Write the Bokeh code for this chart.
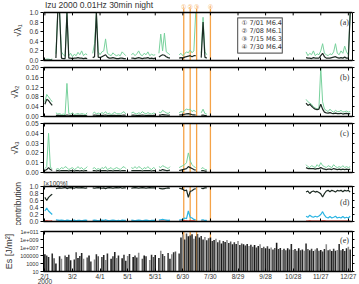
import numpy as np
from bokeh.plotting import figure
from bokeh.layouts import column
from bokeh.models import Range1d, FixedTicker, LinearAxis, LogAxis, Span, BoxAnnotation
from bokeh.embed import file_html
from bokeh.resources import INLINE
from bokeh.core.properties import value

N = None
# ---------------- data (2-day grid from 2000-02-01) ----------------
days = list(range(0, 334, 2))
x_tick_days = [0, 30, 60, 90, 120, 150, 180, 210, 240, 270, 300, 330]
x_tick_labels = ["2/1\n2000", "3/2", "4/1", "5/1", "5/31", "6/30", "7/30", "8/29", "9/28", "10/28", "11/27", "12/27"]
quake_days = [151, 158, 165, 180]
quake_marks = ["①", "②", "③", "④"]
quake_text = ["① 7/01 M6.4", "② 7/08 M6.1", "③ 7/15 M6.3", "④ 7/30 M6.4"]
title_text = "Izu 2000 0.01Hz 30min night"

a_green = [0.02,0.03,0.03,0.02,0.03,N,0.14,1.0,1.0,0.18,
           0.12,0.09,1.0,0.10,0.15,0.08,0.13,0.10,0.17,0.12,
           0.20,0.10,0.14,0.12,N,N,0.15,0.35,1.0,0.18,
           0.12,0.18,0.20,0.45,0.15,0.12,0.10,0.16,0.12,0.10,
           0.12,0.10,0.18,0.14,0.10,N,N,0.12,0.15,0.10,
           0.14,0.20,0.12,0.10,0.15,0.12,0.18,0.10,0.13,0.11,
           0.12,N,0.15,0.55,0.20,0.57,0.18,0.15,0.12,N,
           N,N,N,0.12,0.15,0.10,0.14,0.18,0.16,0.22,
           0.16,0.20,1.0,N,N,0.15,0.90,0.18,0.12,N] + [N]*50 + [
           N,N,0.18,0.10,0.15,0.12,0.20,0.10,0.14,0.12,
           0.20,0.35,0.15,0.12,0.10,0.14,0.12,0.18,0.35,0.15,
           0.12,0.20,0.15,0.30,0.18,0.12,1.0]
a_black = [0.01,0.01,0.01,0.01,0.01,N,0.05,1.0,1.0,0.05,
           0.04,0.04,1.0,0.05,0.05,0.04,0.05,0.05,0.06,0.05,
           0.05,0.04,0.05,0.04,N,N,0.06,0.08,1.0,0.07,
           0.06,0.08,0.10,0.12,0.07,0.05,0.05,0.06,0.05,0.04,
           0.04,0.05,0.05,0.04,0.04,N,N,0.05,0.05,0.04,
           0.05,0.06,0.05,0.04,0.05,0.05,0.06,0.04,0.05,0.04,
           0.05,N,0.07,0.10,0.12,0.11,0.08,0.06,0.05,N,
           N,N,N,0.05,0.06,0.05,0.07,0.08,0.09,0.10,
           0.08,0.10,0.10,N,N,0.06,0.80,0.07,0.05,N] + [N]*50 + [
           N,N,0.06,0.05,0.05,0.04,0.06,0.05,0.05,0.05,
           0.10,0.15,0.08,0.05,0.05,0.05,0.06,0.07,0.08,0.06,
           0.05,0.06,0.05,0.07,0.05,0.05,1.0]

b_green = [0.06,0.09,0.08,0.07,0.06,N,0.015,0.01,0.012,0.008,
           0.01,0.008,0.135,0.012,0.01,0.015,0.008,0.01,0.012,0.009,
           0.012,0.01,0.008,0.015,N,N,0.012,0.018,0.01,0.014,
           0.01,0.016,0.012,0.02,0.01,0.014,0.008,0.012,0.018,0.01,
           0.012,0.01,0.015,0.02,0.01,N,N,0.014,0.018,0.012,
           0.01,0.015,0.012,0.02,0.014,0.01,0.016,0.012,0.01,0.014,
           0.012,N,0.018,0.015,0.025,0.02,0.015,0.012,0.018,N,
           N,N,N,0.015,0.02,0.018,0.025,0.03,0.028,0.03,
           0.02,0.025,0.02,N,N,0.015,0.03,0.012,0.01,N] + [N]*50 + [
           N,N,0.07,0.06,0.055,0.05,0.04,0.035,0.03,0.035,
           0.2,0.06,0.03,0.025,0.02,0.03,0.022,0.018,0.025,0.02,
           0.02,0.025,0.018,0.02,0.022,0.018,0.02]
b_black = [0.05,0.07,0.065,0.055,0.045,N,0.005,0.005,0.005,0.004,
           0.004,0.004,0.006,0.005,0.004,0.005,0.004,0.004,0.005,0.004,
           0.005,0.004,0.004,0.005,N,N,0.005,0.006,0.005,0.005,
           0.004,0.005,0.005,0.006,0.004,0.005,0.004,0.005,0.005,0.004,
           0.005,0.004,0.005,0.006,0.005,N,N,0.005,0.006,0.005,
           0.004,0.005,0.005,0.006,0.005,0.004,0.005,0.005,0.004,0.005,
           0.005,N,0.006,0.006,0.008,0.007,0.006,0.005,0.006,N,
           N,N,N,0.006,0.007,0.007,0.009,0.011,0.012,0.01,
           0.008,0.007,0.006,N,N,0.005,0.006,0.004,0.004,N] + [N]*50 + [
           N,N,0.055,0.045,0.05,0.042,0.035,0.03,0.028,0.03,
           0.05,0.03,0.018,0.015,0.014,0.016,0.013,0.012,0.014,0.012,
           0.012,0.013,0.01,0.012,0.013,0.011,0.012]

c_green = [0.004,0.006,0.04,0.005,0.004,N,0.003,0.004,0.003,0.005,
           0.004,0.006,0.005,0.003,0.004,0.005,0.003,0.004,0.006,0.004,
           0.005,0.003,0.004,0.006,N,N,0.004,0.005,0.003,0.004,
           0.003,0.005,0.004,0.006,0.003,0.004,0.005,0.003,0.004,0.005,
           0.004,0.003,0.005,0.006,0.004,N,N,0.005,0.004,0.006,
           0.004,0.006,0.005,0.003,0.005,0.004,0.006,0.004,0.003,0.005,
           0.004,N,0.006,0.005,0.007,0.006,0.005,0.004,0.006,N,
           N,N,N,0.005,0.006,0.007,0.008,0.01,0.02,0.012,
           0.008,0.006,0.005,N,N,0.004,0.005,0.003,0.003,N] + [N]*50 + [
           N,N,0.008,0.006,0.005,0.007,0.006,0.005,0.008,0.006,
           0.01,0.007,0.006,0.005,0.007,0.006,0.005,0.008,0.006,0.005,
           0.006,0.005,0.007,0.005,0.006,0.005,0.006]
c_black = [0.002,0.003,0.005,0.003,0.002,N,0.0015,0.002,0.0015,0.002,
           0.002,0.002,0.002,0.0015,0.002,0.002,0.0015,0.002,0.002,0.0015,
           0.002,0.0015,0.002,0.002,N,N,0.002,0.002,0.0015,0.002,
           0.0015,0.002,0.002,0.002,0.0015,0.002,0.002,0.0015,0.002,0.002,
           0.002,0.0015,0.002,0.002,0.002,N,N,0.002,0.002,0.002,
           0.002,0.002,0.002,0.0015,0.002,0.002,0.002,0.002,0.0015,0.002,
           0.002,N,0.0025,0.002,0.003,0.0025,0.002,0.002,0.0025,N,
           N,N,N,0.002,0.0025,0.003,0.0035,0.004,0.006,0.005,
           0.004,0.003,0.0025,N,N,0.002,0.002,0.0015,0.0015,N] + [N]*50 + [
           N,N,0.005,0.004,0.004,0.004,0.004,0.0035,0.004,0.004,
           0.005,0.004,0.0035,0.003,0.0035,0.0035,0.003,0.004,0.0035,0.003,
           0.0035,0.003,0.0035,0.003,0.0035,0.003,0.0035]

d_cyan = [0.30,0.38,0.30,0.25,0.20,N,0.05,0.04,0.03,0.04,
          0.03,0.02,0.04,0.03,0.02,0.03,0.04,0.02,0.03,0.03,
          0.02,0.03,0.04,0.03,N,N,0.03,0.04,0.03,0.02,
          0.03,0.04,0.03,0.05,0.03,0.02,0.03,0.04,0.03,0.02,
          0.03,0.02,0.04,0.03,0.03,N,N,0.04,0.03,0.02,
          0.03,0.04,0.03,0.02,0.03,0.04,0.03,0.02,0.03,0.03,
          0.03,N,0.04,0.05,0.06,0.05,0.04,0.03,0.04,N,
          N,N,N,0.04,0.05,0.06,0.10,0.08,0.30,0.12,
          0.10,0.06,0.05,N,N,0.04,0.05,0.03,0.03,N] + [N]*50 + [
          N,N,0.15,0.12,0.18,0.14,0.12,0.15,0.13,0.16,
          0.20,0.28,0.18,0.12,0.10,0.14,0.10,0.12,0.15,0.10,
          0.12,0.10,0.14,0.10,0.12,0.10,0.15]
d_red = [0.01,0.02,0.01,0.01,0.02,N,0.01,0.01,0.01,0.01,
         0.01,0.01,0.02,0.01,0.01,0.01,0.01,0.01,0.01,0.01,
         0.01,0.01,0.01,0.01,N,N,0.01,0.01,0.01,0.01,
         0.01,0.01,0.01,0.01,0.01,0.01,0.01,0.01,0.01,0.01,
         0.01,0.01,0.01,0.01,0.01,N,N,0.01,0.01,0.01,
         0.01,0.01,0.01,0.01,0.01,0.01,0.01,0.01,0.01,0.01,
         0.01,N,0.01,0.01,0.01,0.01,0.01,0.01,0.01,N,
         N,N,N,0.01,0.01,0.02,0.02,0.02,0.01,0.02,
         0.02,0.02,0.01,N,N,0.01,0.01,0.01,0.01,N] + [N]*50 + [
         N,N,0.01,0.01,0.02,0.01,0.01,0.01,0.01,0.01,
         0.01,0.02,0.02,0.01,0.01,0.01,0.01,0.01,0.01,0.01,
         0.01,0.01,0.01,0.01,0.01,0.01,0.01]
d_black = [0.69,0.60,0.69,0.74,0.78,N,0.94,0.95,0.96,0.95,
           0.96,0.97,0.94,0.96,0.97,0.96,0.95,0.97,0.96,0.96,
           0.97,0.96,0.95,0.96,N,N,0.96,0.95,0.96,0.97,
           0.96,0.95,0.96,0.94,0.96,0.97,0.96,0.95,0.96,0.97,
           0.96,0.97,0.95,0.96,0.96,N,N,0.95,0.96,0.97,
           0.96,0.95,0.96,0.97,0.96,0.95,0.96,0.97,0.96,0.96,
           0.96,N,0.95,0.94,0.93,0.94,0.95,0.96,0.95,N,
           N,N,N,0.95,0.94,0.92,0.88,0.90,0.69,0.86,
           0.88,0.92,0.94,N,N,0.95,0.94,0.96,0.96,N] + [N]*50 + [
           N,N,0.84,0.87,0.80,0.85,0.87,0.84,0.86,0.83,
           0.79,0.70,0.80,0.87,0.89,0.85,0.89,0.87,0.84,0.89,
           0.87,0.89,0.85,0.89,0.87,0.89,0.84]

# log10 of Es [J/m^2]
e_log = [5.3,5.0,4.6,1,5.5,4.3,3.0,1,4.8,4.2,
         1,5.0,4.6,5.2,3.8,1,4.0,5.8,4.4,4.9,
         5.6,4.2,1,4.5,5.0,3.5,1,4.0,5.3,4.8,
         1,4.6,5.1,3.9,5.5,1,4.2,4.8,5.9,4.4,
         5.0,1,4.3,5.2,3.7,4.9,5.4,1,4.6,5.0,
         4.5,5.7,1,4.2,5.0,4.8,1,3.9,5.2,4.6,
         5.1,1,4.4,6.2,5.4,4.9,1,5.6,4.2,5.3,
         5.8,6.0,1,5.5,9.5,10.2,9.0,10.5,9.8,10.0,
         10.3,9.2,9.8,10.4,9.5,9.9,9.0,9.6,8.8,9.3,
         9.5,8.6,8.9,9.2,8.3,8.8,8.0,8.6,8.4,8.9,
         8.1,8.5,7.8,8.3,7.9,8.6,7.6,8.0,7.8,7.5,
         7.9,7.4,7.7,7.2,7.6,7.0,7.4,7.8,6.9,7.2,
         6.8,7.3,6.7,7.0,6.5,6.9,8.2,6.6,6.9,6.4,
         6.7,6.3,6.8,6.5,7.9,6.4,6.6,6.2,6.8,6.3,
         6.5,6.2,8.0,6.6,6.3,6.7,6.1,6.5,6.8,6.2,
         6.4,6.0,6.6,7.8,6.3,6.5,6.1,6.7,6.2,6.4,
         7.9,6.3,6.6,6.1,6.8,7.2,6.5]
e_ticks = [10, 1e3, 1e5, 1e7, 1e9, 1e11]
e_tick_labels = ["10", "1000", "100000", "1e+007", "1e+009", "1e+011"]

# ---------------- styling ----------------
FONT = "Liberation Sans"
SERIF = "Liberation Serif"
GREEN = "#78d19c"
DARK = "#1c2a22"
ORANGE = "#f5a347"
TXT = "#333333"
W = 359
xr = Range1d(-1.5, 334.5)


def arr(v):
    return np.array(v, dtype=float)


def hide_labels(ax):
    ax.major_label_text_font_size = "1px"
    ax.major_label_text_color = None
    ax.major_label_standoff = 0


def xaxis(show_labels):
    ax = LinearAxis(ticker=FixedTicker(ticks=x_tick_days))
    ax.major_label_overrides = {d: l for d, l in zip(x_tick_days, x_tick_labels)}
    ax.minor_tick_line_color = None
    ax.axis_line_color = "black"
    ax.axis_line_width = 1.5
    ax.major_tick_line_color = "black"
    ax.major_tick_in = 3
    ax.major_tick_out = 0
    if show_labels:
        ax.major_label_text_font = FONT
        ax.major_label_text_font_size = "6.5px"
        ax.major_label_text_color = TXT
        ax.major_label_standoff = 1
        ax.major_label_text_line_height = 0.85
    else:
        hide_labels(ax)
    return ax


def make_panel(fh, bt, bb, yr, yticks, ylabels, ylabel, log=False, xlabels=False,
               title=None, ylabel_size="9px", ytick_size="6.5px", top_axis=True, bounds=None):
    p = figure(width=W, frame_height=fh, x_range=xr, y_range=yr,
               y_axis_type="log" if log else "linear",
               x_axis_location=None, y_axis_location=None,
               output_backend="svg", toolbar_location=None,
               min_border_left=36, min_border_right=7,
               min_border_top=bt, min_border_bottom=bb,
               title=title)
    p.grid.visible = False
    p.outline_line_color = "black" if top_axis else None
    p.outline_line_width = 1
    p.background_fill_color = "white"
    AX = LogAxis if log else LinearAxis
    overrides = {t: l for t, l in zip(yticks, ylabels)}
    left = AX(ticker=FixedTicker(ticks=yticks), axis_label=ylabel)
    right = AX(ticker=FixedTicker(ticks=yticks))
    if bounds is not None:
        left.bounds = bounds
        right.bounds = bounds
    left.major_label_overrides = overrides
    left.minor_tick_line_color = None
    left.major_tick_out = 3
    left.major_tick_in = 0
    left.major_label_standoff = 2
    left.major_label_text_font = FONT
    left.major_label_text_font_size = ytick_size
    left.major_label_text_color = TXT
    left.axis_label_text_font = FONT
    left.axis_label_text_font_size = ylabel_size
    left.axis_label_text_font_style = "normal"
    left.axis_label_text_color = TXT
    left.axis_label_standoff = 3
    left.axis_line_color = "black"
    p.add_layout(left, "left")
    right.major_label_overrides = overrides
    right.minor_tick_line_color = None
    right.major_tick_out = 2
    right.major_tick_in = 0
    hide_labels(right)
    right.axis_line_color = "black"
    p.add_layout(right, "right")
    if top_axis:
        p.add_layout(xaxis(False), "above")
    p.add_layout(xaxis(xlabels), "below")
    if top_axis:
        for d in quake_days:
            p.add_layout(Span(location=d, dimension="height", line_color=ORANGE,
                              line_width=1.3, level="underlay"))
    return p


lin_a = [0, 0.2, 0.4, 0.6, 0.8, 1.0]
lab_a = ["0.0", "0.2", "0.4", "0.6", "0.8", "1.0"]

# (a): frame extends above 1.0 to hold the chart title and the quake markers
pa = make_panel(60, 0, 4, Range1d(0, 1.25), lin_a, lab_a, "√λ₁",
                top_axis=False, bounds=(0, 1.0))
pa.add_layout(Span(location=1.0, dimension="width", line_color="black", line_width=1.5))
pa.segment(x0=x_tick_days, y0=[1.0] * 12, x1=x_tick_days, y1=[0.94] * 12,
           line_color="black", line_width=1)
pa.segment(x0=quake_days, y0=[0] * 4, x1=quake_days, y1=[1.075] * 4,
           line_color=ORANGE, line_width=1.3, level="underlay")
pa.text(x=[0], y=[1.15], text=[title_text], text_font=value(FONT),
        text_font_size="8.5px", text_color=TXT, text_baseline="middle", text_align="left")
pa.text(x=quake_days, y=[1.13] * 4, text=quake_marks, text_font=value("DejaVu Sans"),
        text_font_size="6px", text_color=ORANGE, text_baseline="middle", text_align="center")
pa.line(days, arr(a_green), line_color=GREEN, line_width=1)
pa.line(days, arr(a_black), line_color=DARK, line_width=1.2)
pa.add_layout(BoxAnnotation(left=209.6, right=258.2, top=0.89, bottom=0.152,
                            fill_color="white", fill_alpha=1, line_color="#666666",
                            line_width=1.2, line_alpha=1, level="underlay"))
pa.text(x=[213.8] * 4, y=[0.777, 0.61, 0.44, 0.277], text=quake_text,
        text_font=value("DejaVu Sans"), text_font_size="6.5px", text_color=TXT,
        text_baseline="middle", text_align="left")
pa.text(x=[321], y=[0.79], text=["(a)"], text_font=value(SERIF), text_font_size="8px",
        text_color=TXT, text_baseline="middle", text_align="left")

# (b)
pb = make_panel(49, 3, 4, Range1d(0, 0.2), [0, 0.04, 0.08, 0.12, 0.16, 0.2],
                ["0.00", "0.04", "0.08", "0.12", "0.16", "0.20"], "√λ₂")
pb.line(days, arr(b_green), line_color=GREEN, line_width=1)
pb.line(days, arr(b_black), line_color=DARK, line_width=1.2)
pb.text(x=[321], y=[0.159], text=["(b)"], text_font=value(SERIF), text_font_size="8px",
        text_color=TXT, text_baseline="middle", text_align="left")

# (c)
pc = make_panel(49, 3, 4, Range1d(0, 0.05), [0, 0.01, 0.02, 0.03, 0.04, 0.05],
                ["0.00", "0.01", "0.02", "0.03", "0.04", "0.05"], "√λ₃")
pc.line(days, arr(c_green), line_color=GREEN, line_width=1)
pc.line(days, arr(c_black), line_color=DARK, line_width=1.2)
pc.text(x=[321], y=[0.0398], text=["(c)"], text_font=value(SERIF), text_font_size="8px",
        text_color=TXT, text_baseline="middle", text_align="left")

# (d)
pd_ = make_panel(35, 10, 4, Range1d(0, 1.0), lin_a, lab_a, "contribution",
                 title="[×100%]", ylabel_size="8.5px")
pd_.title.text_font = FONT
pd_.title.text_font_size = "6.5px"
pd_.title.text_font_style = "normal"
pd_.title.text_color = TXT
pd_.title.standoff = 0
pd_.title.align = "left"
pd_.line(days, arr(d_red), line_color="#e03a2f", line_width=1.2)
pd_.line(days, arr(d_cyan), line_color="#2bb5e3", line_width=1.2)
pd_.line(days, arr(d_black), line_color=DARK, line_width=1.2)
pd_.text(x=[321], y=[0.54], text=["(d)"], text_font=value(SERIF), text_font_size="8px",
         text_color=TXT, text_baseline="middle", text_align="left")

# (e)
e_top = [10 ** v for v in e_log]
shades = ["#181818", "#3a3a3a", "#242424", "#8c8c8c", "#2e2e2e", "#555555"]
e_col = [shades[i % len(shades)] for i in range(len(days))]
pe = make_panel(40, 6, 12, Range1d(10, 1e11), e_ticks, e_tick_labels, "Es [J/m²]",
                log=True, xlabels=True, ytick_size="5.5px")
pe.vbar(x=days, top=e_top, bottom=10, width=1.7, fill_color=e_col, line_color=None)
pe.text(x=[321], y=[10 ** 8.75], text=["(e)"], text_font=value(SERIF), text_font_size="8px",
        text_color=TXT, text_baseline="middle", text_align="left")

layout = column(pa, pb, pc, pd_, pe, spacing=0)
open("out.html", "w").write(file_html(layout, INLINE))
